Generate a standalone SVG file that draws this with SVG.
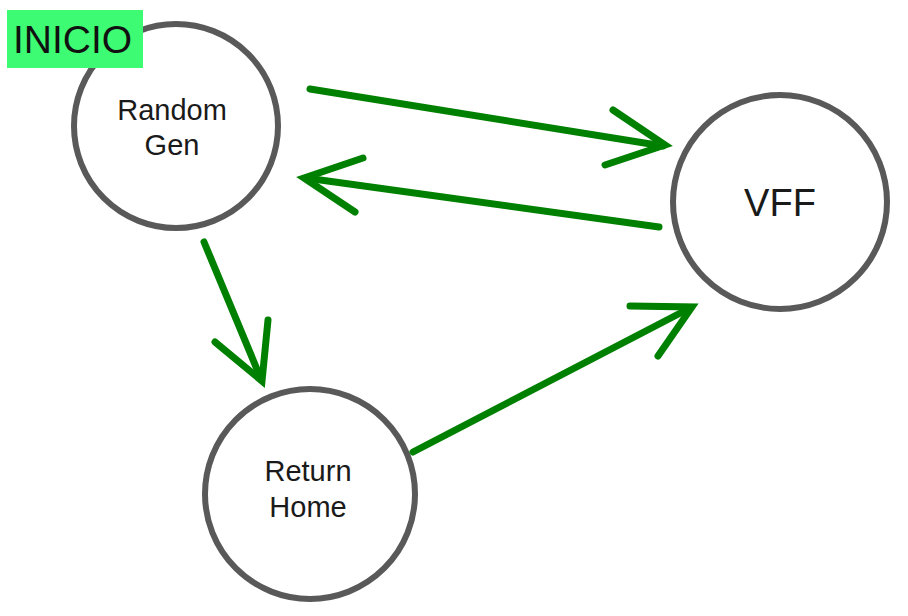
<svg xmlns="http://www.w3.org/2000/svg" width="908" height="616" viewBox="0 0 908 616">
<style>
.node{fill:#ffffff;stroke:#595959;stroke-width:6}
.lbl{font-family:"Liberation Sans",Arial,sans-serif;fill:#1a1a1a;text-anchor:middle}
.edge{fill:none;stroke:#008000;stroke-width:7;stroke-linecap:round;stroke-linejoin:miter}
</style>
<rect width="908" height="616" fill="#ffffff"/>
<g id="random-gen">
<circle class="node" cx="176" cy="126" r="102"/>
<text class="lbl" x="172" y="120" font-size="29">Random</text>
<text class="lbl" x="172" y="155" font-size="29">Gen</text>
</g>
<g id="vff">
<circle class="node" cx="780" cy="202" r="107"/>
<text class="lbl" x="780" y="216" font-size="38">VFF</text>
</g>
<g id="return-home">
<circle class="node" cx="310" cy="494" r="105"/>
<text class="lbl" x="308" y="481" font-size="29">Return</text>
<text class="lbl" x="308" y="517" font-size="29">Home</text>
</g>
<g id="inicio">
<rect x="7" y="10" width="136" height="58" fill="#3dfb72"/>
<text x="13" y="53" font-family="'Liberation Sans',Arial,sans-serif" font-size="39" fill="#111111">INICIO</text>
</g>
<g id="connectors">
<path class="edge" d="M310,89 L663,146"/>
<path class="edge" d="M613,110 L665,145 L605,165"/>
<path class="edge" d="M659,227 L306,178"/>
<path class="edge" d="M363,158 L304,178 L355,212"/>
<path class="edge" d="M204,242 L261,379"/>
<path class="edge" d="M215,342 L262,381 L268,320"/>
<path class="edge" d="M413,452 L690,308"/>
<path class="edge" d="M630,306 L692,307 L658,356"/>
</g>
</svg>
